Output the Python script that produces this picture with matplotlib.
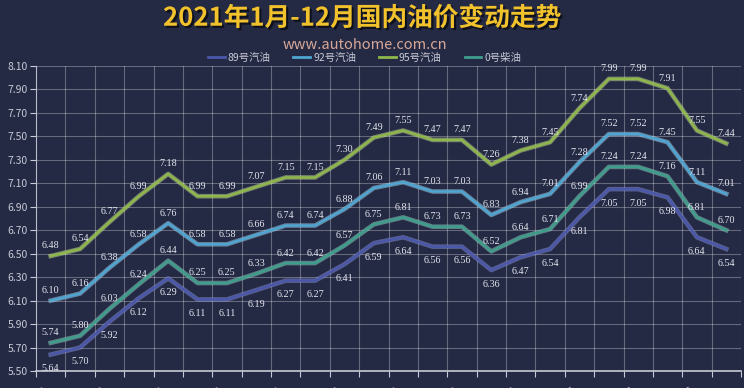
# -*- coding: utf-8 -*-
import numpy as np
import matplotlib
matplotlib.use("Agg")
import matplotlib.pyplot as plt
import matplotlib.patheffects as pe

plt.rcParams['font.family'] = ['Noto Sans CJK SC', 'DejaVu Sans']

# ===== Data =====
months = ["1月", "", "2月", "", "3月", "", "4月", "", "5月", "", "6月", "",
          "7月", "", "8月", "", "9月", "", "10月", "", "11月", "", "12月", ""]
series_names = ["89号汽油", "92号汽油", "95号汽油", "0号柴油"]
p89 = [5.64, 5.70, 5.92, 6.12, 6.29, 6.11, 6.11, 6.19, 6.27, 6.27, 6.41, 6.59,
       6.64, 6.56, 6.56, 6.36, 6.47, 6.54, 6.81, 7.05, 7.05, 6.98, 6.64, 6.54]
p92 = [6.10, 6.16, 6.38, 6.58, 6.76, 6.58, 6.58, 6.66, 6.74, 6.74, 6.88, 7.06,
       7.11, 7.03, 7.03, 6.83, 6.94, 7.01, 7.28, 7.52, 7.52, 7.45, 7.11, 7.01]
p95 = [6.48, 6.54, 6.77, 6.99, 7.18, 6.99, 6.99, 7.07, 7.15, 7.15, 7.30, 7.49,
       7.55, 7.47, 7.47, 7.26, 7.38, 7.45, 7.74, 7.99, 7.99, 7.91, 7.55, 7.44]
p0 = [5.74, 5.80, 6.03, 6.24, 6.44, 6.25, 6.25, 6.33, 6.42, 6.42, 6.57, 6.75,
      6.81, 6.73, 6.73, 6.52, 6.64, 6.71, 6.99, 7.24, 7.24, 7.16, 6.81, 6.70]
yticks = np.arange(5.5, 8.11, 0.2)

# ===== Style =====
bg = "#242944"
colors = ["#4b57ab", "#4da6d3", "#8fb84a", "#3e9e8c"]
edges = ["#8b95d8", "#a8dcf2", "#d0e694", "#96d8c8"]

fig = plt.figure(figsize=(7.44, 3.88), dpi=100, facecolor=bg)
ax = fig.add_axes([36 / 744, 17 / 388, 705 / 744, 305 / 388])
ax.set_facecolor(bg)

x = np.arange(len(p89))
data = [p89, p92, p95, p0]
for vals, name, c, ec in zip(data, series_names, colors, edges):
    ax.plot(x, vals, color=c, lw=1.7, label=name,
            path_effects=[pe.Stroke(linewidth=3.3, foreground=ec, alpha=0.5), pe.Normal()],
            zorder=3)

# ===== Data labels =====
for vals, below in [(p95, False), (p92, False), (p0, False), (p89, True)]:
    for i, v in enumerate(vals):
        ax.annotate(f"{v:.2f}", (i, v), xytext=(0, -7 if below else 4),
                    textcoords="offset points", ha="center",
                    va="top" if below else "bottom",
                    fontsize=7.3, color="#e4e6ee", family="Liberation Serif",
                    zorder=4)

# ===== Axes =====
ax.set_xlim(-0.5, len(p89) - 0.5)
ax.set_ylim(5.5, 8.1)
ax.set_yticks(yticks)
ax.set_yticklabels([f"{t:.2f}" for t in yticks])
ax.set_xticks(np.arange(-0.5, len(p89), 1), minor=False)
ax.set_xticklabels([])
ax.set_xticks(x, minor=True)
ax.set_xticklabels(months, minor=True, rotation=45, ha="right", fontsize=8, color="#c8cad6")
ax.tick_params(axis="x", which="minor", length=0, pad=10)
ax.tick_params(axis="x", which="major", length=4, color="#c8cad6")
ax.tick_params(axis="y", length=4, color="#c8cad6", labelcolor="#c8cad6", labelsize=7.5, pad=2)
ax.grid(True, which="major", color="#ffffff", alpha=0.3, lw=0.8)
for s in ["top", "right"]:
    ax.spines[s].set_visible(False)
ax.spines["left"].set_color("#b8bccb")
ax.spines["bottom"].set_color("#c8cad6")
ax.spines["bottom"].set_linewidth(1.2)

# ===== Titles & legend =====
fig.text(0.487, 0.953, "2021年1月-12月国内油价变动走势", ha="center", va="center",
         fontsize=18.5, fontweight="bold", color="#f2c22c",
         path_effects=[pe.withSimplePatchShadow(offset=(1.5, -1.5), shadow_rgbFace="#000000", alpha=0.6)])
fig.text(0.49, 0.885, "www.autohome.com.cn", ha="center", va="center",
         fontsize=10.5, color="#d9a898")
leg = fig.legend(loc="center", bbox_to_anchor=(0.49, 0.851), ncol=4, frameon=False,
                 fontsize=7.5, handlelength=1.6, handletextpad=0.3, columnspacing=2.2,
                 labelcolor="#c8cad6")
for h in leg.get_lines():
    h.set_linewidth(2)
    h.set_path_effects([])

fig.savefig("out.png", dpi=100, facecolor=bg)
